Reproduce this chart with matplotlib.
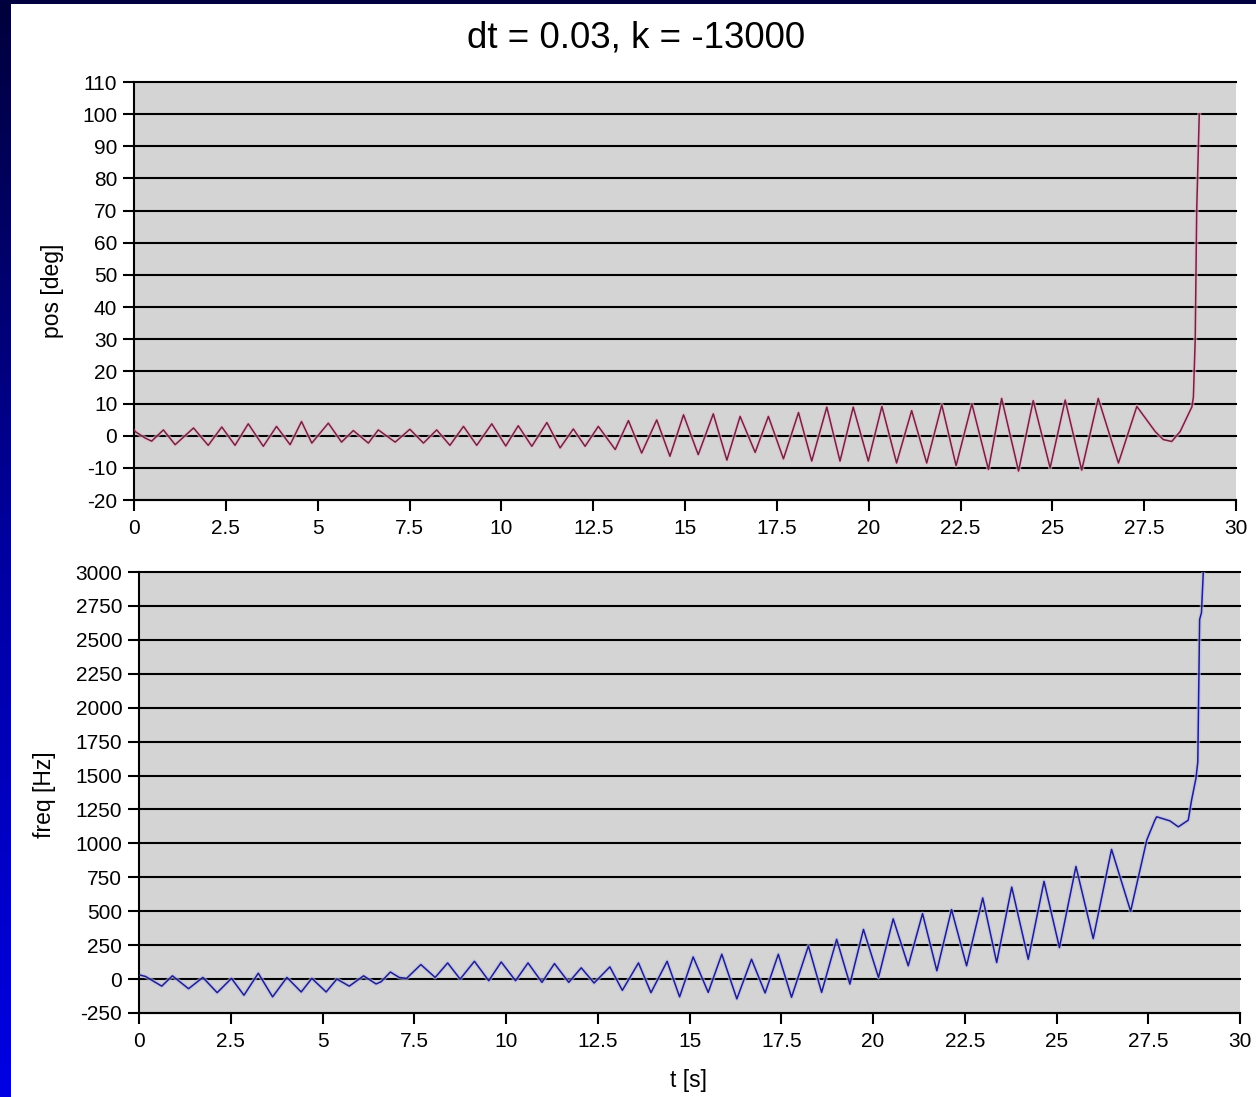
import numpy as np
import matplotlib
matplotlib.use("Agg")
import matplotlib.pyplot as plt
from matplotlib.colors import LinearSegmentedColormap

# ---------------- data ----------------
title = "dt = 0.03, k = -13000"

pos_t = [0.0, 0.03, 0.30, 0.48, 0.80, 1.12, 1.62, 2.02, 2.39, 2.75, 3.11, 3.52, 3.88,
         4.25, 4.56, 4.84, 5.29, 5.65, 5.97, 6.38, 6.65, 7.11, 7.51, 7.88, 8.24, 8.60,
         8.97, 9.33, 9.74, 10.12, 10.46, 10.83, 11.24, 11.60, 11.96, 12.28, 12.64, 13.10,
         13.46, 13.82, 14.23, 14.59, 14.96, 15.36, 15.77, 16.14, 16.50, 16.91, 17.27,
         17.68, 18.09, 18.45, 18.86, 19.22, 19.58, 19.99, 20.36, 20.76, 21.17, 21.58,
         21.99, 22.38, 22.81, 23.26, 23.62, 24.08, 24.48, 24.94, 25.35, 25.80, 26.25,
         26.80, 27.30, 27.80, 28.02, 28.25, 28.48, 28.80, 28.84, 28.89, 28.93, 29.00]
pos_v = [2.0, 1.3, -0.7, -1.7, 1.8, -2.8, 2.4, -3.0, 2.7, -3.0, 3.7, -3.3, 2.9,
         -2.8, 4.4, -2.3, 3.9, -2.0, 1.6, -2.3, 1.8, -2.0, 2.0, -2.3, 1.8, -3.0,
         2.9, -3.0, 3.7, -3.2, 3.1, -3.3, 4.1, -3.8, 2.1, -3.3, 2.9, -4.3,
         4.7, -5.4, 4.9, -6.4, 6.5, -5.9, 6.8, -7.6, 6.0, -5.2, 6.0,
         -7.2, 7.2, -7.9, 8.9, -7.9, 8.9, -7.9, 9.1, -8.5, 7.8, -8.5,
         9.6, -9.3, 9.9, -10.5, 11.6, -11.0, 10.9, -10.0, 11.1, -10.7, 11.6,
         -8.5, 9.1, 1.3, -1.2, -1.8, 1.3, 9.0, 12.0, 30.0, 70.0, 100.0]

freq_t = [0.0, 0.04, 0.18, 0.62, 0.91, 1.35, 1.74, 2.13, 2.52, 2.86, 3.25, 3.64, 4.03,
          4.42, 4.71, 5.10, 5.39, 5.73, 6.12, 6.46, 6.60, 6.85, 7.09, 7.29, 7.68, 8.07,
          8.41, 8.75, 9.14, 9.53, 9.87, 10.26, 10.60, 10.98, 11.32, 11.71, 12.05, 12.40,
          12.83, 13.17, 13.61, 13.95, 14.39, 14.73, 15.10, 15.51, 15.88, 16.29, 16.69,
          17.06, 17.42, 17.78, 18.24, 18.60, 19.01, 19.37, 19.74, 20.15, 20.55, 20.96,
          21.35, 21.74, 22.14, 22.55, 22.99, 23.37, 23.78, 24.23, 24.66, 25.08, 25.53,
          26.00, 26.50, 27.02, 27.46, 27.68, 27.73, 28.09, 28.32, 28.59, 28.68, 28.80,
          28.85, 28.90, 28.95, 29.00]
freq_v = [30, 29, 19, -52, 24, -71, 12, -100, 5, -119, 43, -131, 12,
          -95, 5, -95, 0, -52, 24, -36, -19, 52, 12, 5, 107, 12,
          119, 0, 131, -12, 126, -12, 119, -24, 114, -24, 83, -29,
          90, -83, 119, -100, 131, -131, 163, -98, 183, -146, 146,
          -102, 183, -134, 244, -98, 293, -37, 366, 12, 444, 98,
          483, 61, 512, 98, 598, 122, 678, 146, 720, 232, 830,
          298, 956, 500, 1025, 1171, 1196, 1166, 1122, 1171, 1318, 1480,
          1600, 2650, 2700, 3000]

x_ticks = [0, 2.5, 5, 7.5, 10, 12.5, 15, 17.5, 20, 22.5, 25, 27.5, 30]
x_labels = ["0", "2.5", "5", "7.5", "10", "12.5", "15", "17.5", "20", "22.5", "25", "27.5", "30"]
pos_ticks = list(range(-20, 111, 10))
freq_ticks = list(range(-250, 3001, 250))

# ---------------- figure ----------------
W, H = 1256, 1097
fig = plt.figure(figsize=(W / 100, H / 100), dpi=100, facecolor="white")
plt.rcParams["font.family"] = ["Liberation Sans", "DejaVu Sans"]

# blue frame strips (slide background)
cmap = LinearSegmentedColormap.from_list("bg", ["#00003c", "#0000a0", "#0000e4"])
ax_bg = fig.add_axes([0, 0, 11 / W, 1])
ax_bg.imshow(np.linspace(0, 1, 256).reshape(-1, 1), aspect="auto", cmap=cmap)
ax_bg.set_axis_off()
ax_top_bg = fig.add_axes([0, 1 - 4 / H, 1, 4 / H])
ax_top_bg.set_facecolor("#000040")
ax_top_bg.set_xticks([]); ax_top_bg.set_yticks([])
for s in ax_top_bg.spines.values():
    s.set_visible(False)


def axes_px(l, r, t, b):
    return [l / W, 1 - b / H, (r - l) / W, (b - t) / H]


def style(ax, yticks, ylim):
    ax.set_facecolor("#d4d4d4")
    ax.set_xlim(0, 30)
    ax.set_ylim(*ylim)
    ax.set_xticks(x_ticks)
    ax.set_xticklabels(x_labels)
    ax.set_yticks(yticks)
    ax.set_yticklabels([str(v) for v in yticks])
    for v in yticks:
        ax.axhline(v, color="black", lw=1.5, zorder=1, clip_on=False)
    for s in ["top", "right"]:
        ax.spines[s].set_visible(False)
    for s in ["left", "bottom"]:
        ax.spines[s].set_linewidth(1.5)
        ax.spines[s].set_color("black")
    ax.tick_params(axis="both", direction="out", length=8, width=1.5,
                   colors="black", labelsize=15)
    ax.tick_params(axis="x", pad=6)
    ax.tick_params(axis="y", pad=4)


ax1 = fig.add_axes(axes_px(134, 1236, 82, 500))
style(ax1, pos_ticks, (-20, 110))
ax1.plot(pos_t, pos_v, color="#f0b8c8", lw=3.0, alpha=0.6, zorder=2)
ax1.plot(pos_t, pos_v, color="#6e2446", lw=1.1, zorder=3)

ax2 = fig.add_axes(axes_px(139, 1240, 572, 1013))
style(ax2, freq_ticks, (-250, 3000))
ax2.plot(freq_t, freq_v, color="#b8b8f0", lw=3.0, alpha=0.6, zorder=2)
ax2.plot(freq_t, freq_v, color="#1e1e88", lw=1.1, zorder=3)

fig.text(636 / W, 1 - 38 / H, title, ha="center", va="center", fontsize=26.5)
fig.text(53 / W, 1 - 291 / H, "pos [deg]", ha="center", va="center",
         rotation=90, fontsize=16.5)
fig.text(45 / W, 1 - 795 / H, "freq [Hz]", ha="center", va="center",
         rotation=90, fontsize=16.5)
fig.text(688 / W, 1 - 1081 / H, "t [s]", ha="center", va="center", fontsize=16.5)

fig.savefig("out.png", dpi=100, facecolor="white")
